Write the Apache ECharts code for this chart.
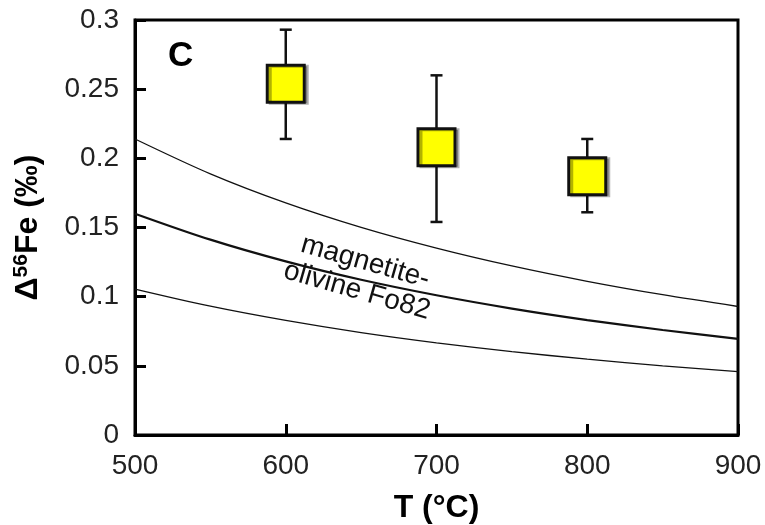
<!DOCTYPE html>
<html>
<head>
<meta charset="utf-8">
<script src="https://cdn.jsdelivr.net/npm/echarts@6/dist/echarts.min.js"></script>
<style>
  html, body { margin: 0; padding: 0; background: #fff; }
  #chart { width: 765px; height: 525px; }
</style>
</head>
<body>
<div id="chart"></div>
<script>
// Temperatures (°C) at which the equilibrium fractionation curves are sampled
const curveT = [500, 550, 600, 650, 700, 750, 800, 850, 900];
// Δ56Fe (‰) curves: upper bound, magnetite–olivine Fo82, lower bound
const upperCurve = [0.2140, 0.1888, 0.1678, 0.1501, 0.1351, 0.1222, 0.1111, 0.1014, 0.0929];
const midCurve   = [0.1600, 0.1412, 0.1255, 0.1122, 0.1010, 0.0914, 0.0831, 0.0759, 0.0695];
const lowerCurve = [0.1055, 0.0931, 0.0828, 0.0740, 0.0666, 0.0603, 0.0548, 0.0500, 0.0458];

// Measured samples: temperature, mean Δ56Fe and error-bar range
const sampleT    = [600, 700, 800];
const sampleMean = [0.254, 0.208, 0.187];
const sampleLow  = [0.214, 0.154, 0.161];
const sampleHigh = [0.293, 0.260, 0.214];

// Axis ticks
const xTicks = [500, 600, 700, 800, 900];
const yTicks = [0, 0.05, 0.1, 0.15, 0.2, 0.25, 0.3];

const FONT = '"Liberation Sans", Arial, Helvetica, sans-serif';

const pair = (xs, ys) => xs.map((x, i) => [x, ys[i]]);

const chart = echarts.init(document.getElementById('chart'), null, { renderer: 'canvas' });

const option = {
  animation: false,
  backgroundColor: '#ffffff',
  title: {
    text: 'C',
    left: 163,
    top: 34,
    textStyle: { fontFamily: FONT, fontSize: 35, fontWeight: 'bold', color: '#000' }
  },
  grid: {
    left: 135, right: 27, top: 20, bottom: 90,
    outerBoundsMode: 'none',
    containLabel: false,
    show: true, borderColor: '#000', borderWidth: 3, backgroundColor: 'transparent'
  },
  xAxis: {
    type: 'value',
    min: xTicks[0], max: xTicks[xTicks.length - 1], interval: 100,
    name: 'T (°C)',
    nameLocation: 'middle',
    nameGap: 57,
    nameTextStyle: { fontFamily: FONT, fontSize: 32, fontWeight: 'bold', color: '#000' },
    axisLine: { show: true, lineStyle: { color: '#000', width: 3 } },
    axisTick: { show: true, inside: true, length: 11, lineStyle: { color: '#000', width: 3 } },
    axisLabel: { fontFamily: FONT, fontSize: 28, color: '#222', margin: 17 },
    splitLine: { show: false }
  },
  yAxis: {
    type: 'value',
    min: yTicks[0], max: yTicks[yTicks.length - 1], interval: 0.05,
    name: '{d|Δ}{s|56}{d|Fe (‰)}',
    nameLocation: 'middle',
    nameGap: 90,
    nameTextStyle: {
      rich: {
        d: { fontFamily: FONT, fontSize: 32, fontWeight: 'bold', color: '#000' },
        s: { fontFamily: FONT, fontSize: 21, fontWeight: 'bold', color: '#000', padding: [0, 0, 13, 0] }
      }
    },
    axisLine: { show: true, lineStyle: { color: '#000', width: 3 } },
    axisTick: { show: true, inside: true, length: 11, lineStyle: { color: '#000', width: 3 } },
    axisLabel: { fontFamily: FONT, fontSize: 28, color: '#222', margin: 16 },
    splitLine: { show: false }
  },
  series: [
    {
      type: 'line', data: pair(curveT, upperCurve), smooth: 0.3, symbol: 'none',
      lineStyle: { color: '#111', width: 1.3 }, z: 2, silent: true
    },
    {
      type: 'line', data: pair(curveT, midCurve), smooth: 0.3, symbol: 'none',
      lineStyle: { color: '#111', width: 2.2 }, z: 2, silent: true
    },
    {
      type: 'line', data: pair(curveT, lowerCurve), smooth: 0.3, symbol: 'none',
      lineStyle: { color: '#111', width: 1.3 }, z: 2, silent: true
    },
    {
      // vertical error bars with end caps
      type: 'custom',
      z: 3,
      silent: true,
      data: sampleT.map((t, i) => [t, sampleLow[i], sampleHigh[i]]),
      renderItem: function (params, api) {
        const lo = api.coord([api.value(0), api.value(1)]);
        const hi = api.coord([api.value(0), api.value(2)]);
        const cap = 6;
        const style = { stroke: '#111', lineWidth: 2.5 };
        return {
          type: 'group',
          children: [
            { type: 'line', shape: { x1: lo[0], y1: lo[1], x2: hi[0], y2: hi[1] }, style },
            { type: 'line', shape: { x1: lo[0] - cap, y1: lo[1], x2: lo[0] + cap, y2: lo[1] }, style },
            { type: 'line', shape: { x1: hi[0] - cap, y1: hi[1], x2: hi[0] + cap, y2: hi[1] }, style }
          ]
        };
      }
    },
    {
      type: 'scatter',
      z: 4,
      silent: true,
      symbol: 'rect',
      symbolSize: 37,
      data: pair(sampleT, sampleMean),
      itemStyle: {
        color: '#ffff00',
        opacity: 1,
        borderColor: '#111',
        borderWidth: 3,
        shadowColor: 'rgba(0,0,0,0.3)',
        shadowOffsetX: 3,
        shadowOffsetY: 1,
        shadowBlur: 0
      }
    }
  ]
};

chart.setOption(option);

// Curve label, placed in data coordinates and tilted along the curves
const labelAt = chart.convertToPixel({ gridIndex: 0 }, [650, 0.1146]);
chart.setOption({
  graphic: [{
    type: 'text',
    x: labelAt[0],
    y: labelAt[1],
    rotation: -16 * Math.PI / 180,
    z: 10,
    style: {
      text: 'magnetite-\nolivine Fo82',
      fontFamily: FONT,
      fontSize: 28,
      lineHeight: 30,
      fill: '#111',
      align: 'center',
      verticalAlign: 'middle'
    }
  }]
});
</script>
</body>
</html>
